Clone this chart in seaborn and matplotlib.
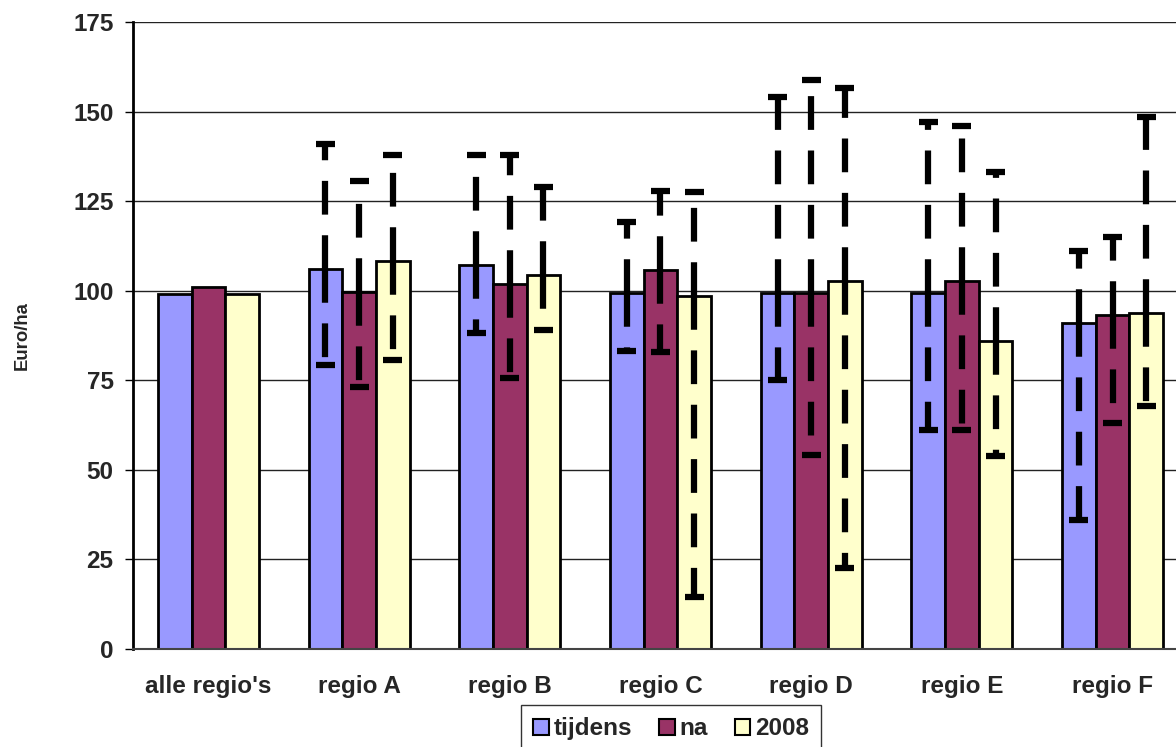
import pandas as pd
import matplotlib
matplotlib.use("Agg")
import matplotlib.pyplot as plt
import matplotlib.patches as mpatches
import seaborn as sns

# ── Data ──────────────────────────────────────────────────────────────────────
REGIONS = ["alle regio's", "regio A", "regio B", "regio C", "regio D", "regio E", "regio F"]
PERIODS = ["tijdens", "na", "2008"]
NAN = float("nan")

tijdens = [99.0, 106.2, 107.2, 99.5, 99.4, 99.3, 91.1]
na      = [101.0, 99.6, 101.8, 105.8, 99.4, 102.8, 93.2]
y2008   = [99.0, 108.3, 104.4, 98.6, 102.8, 86.0, 93.7]

# upper / lower end of the (dashed) error bars
tijdens_hi = [NAN, 141.0, 138.0, 119.2, 154.2, 147.2, 111.2]
tijdens_lo = [NAN, 79.3, 88.1, 83.2, 75.0, 61.1, 36.0]
na_hi      = [NAN, 130.7, 138.0, 127.9, 158.8, 146.1, 115.1]
na_lo      = [NAN, 73.2, 75.6, 82.9, 54.1, 61.1, 63.2]
y2008_hi   = [NAN, 138.0, 129.0, 127.6, 156.6, 133.2, 148.6]
y2008_lo   = [NAN, 80.7, 89.1, 14.6, 22.5, 54.0, 67.9]

YTICKS = [0, 25, 50, 75, 100, 125, 150, 175]

COLORS = {"tijdens": "#9999FF", "na": "#993366", "2008": "#FFFFCC"}
FS = 17.5

# ── Style ─────────────────────────────────────────────────────────────────────
sns.set_style("white")
plt.rcParams["font.family"] = ["Liberation Sans", "DejaVu Sans"]
plt.rcParams["font.weight"] = "bold"

df = pd.DataFrame({
    "region": REGIONS * 3,
    "period": [p for p in PERIODS for _ in REGIONS],
    "value": tijdens + na + y2008,
})

fig = plt.figure(figsize=(11.76, 7.47), dpi=100)
ax = fig.add_axes([133 / 1176, 98 / 747, 1055 / 1176, 627 / 747])

sns.barplot(data=df, x="region", y="value", hue="period", order=REGIONS,
            hue_order=PERIODS, palette=COLORS, saturation=1, width=0.67,
            gap=0, edgecolor="black", linewidth=2, legend=False, ax=ax,
            errorbar=None, zorder=2)

# ── Error bars: dashed, drawn outward from the bar top ────────────────────────
cap_half = 0.063
for cont, vals, lo, hi in zip(ax.containers,
                              [tijdens, na, y2008],
                              [tijdens_lo, na_lo, y2008_lo],
                              [tijdens_hi, na_hi, y2008_hi]):
    xs = [b.get_x() + b.get_width() / 2 for b in cont]
    for ends in (hi, lo):
        lc = ax.vlines(xs, vals, ends, colors="black", linewidth=4.5,
                       linestyles=[(0, (5.4, 3.3))], zorder=4)
        lc.set_capstyle("butt")
        caps = ax.hlines(ends, [x - cap_half for x in xs], [x + cap_half for x in xs],
                         colors="black", linewidth=4.5, zorder=4)
        caps.set_capstyle("butt")

# ── Axes ──────────────────────────────────────────────────────────────────────
ax.set_ylim(0, 175)
ax.set_xlim(-0.5, len(REGIONS) - 0.5)
ax.set_yticks(YTICKS)
ax.yaxis.grid(True, color="#222222", linewidth=1)
ax.set_axisbelow(True)

ax.set_xticks(range(len(REGIONS)))
ax.set_xticklabels(REGIONS)
ax.set_xticks([i - 0.5 for i in range(len(REGIONS) + 1)], minor=True)
ax.tick_params(axis="x", which="major", length=0, pad=19, labelsize=FS)
ax.tick_params(axis="x", which="minor", length=6, width=1, color="#444444", direction="out")
ax.tick_params(axis="y", length=6, width=1, color="black", direction="out",
               pad=8, labelsize=FS, left=True)

ax.set_xlabel("")
ax.set_ylabel("Euro/ha", fontsize=13.3, fontweight="bold")
ax.yaxis.set_label_coords(-0.097, 0.5)

for side in ["top", "right"]:
    ax.spines[side].set_visible(False)
ax.spines["left"].set_color("black")
ax.spines["left"].set_linewidth(2)
ax.spines["bottom"].set_color("#444444")
ax.spines["bottom"].set_linewidth(1.5)

# ── Legend ────────────────────────────────────────────────────────────────────
handles = [mpatches.Patch(facecolor=COLORS[p], edgecolor="black", linewidth=1.5, label=p)
           for p in PERIODS]
leg = fig.legend(handles=handles, loc="upper center", ncol=3,
                 bbox_to_anchor=(671 / 1176, 42 / 747), fontsize=FS,
                 frameon=True, fancybox=False, edgecolor="black",
                 handlelength=0.65, handleheight=0.65, handletextpad=0.2,
                 columnspacing=1.1, borderpad=0.5, borderaxespad=0)
leg.get_frame().set_linewidth(1)

fig.savefig("out.png", dpi=100)
